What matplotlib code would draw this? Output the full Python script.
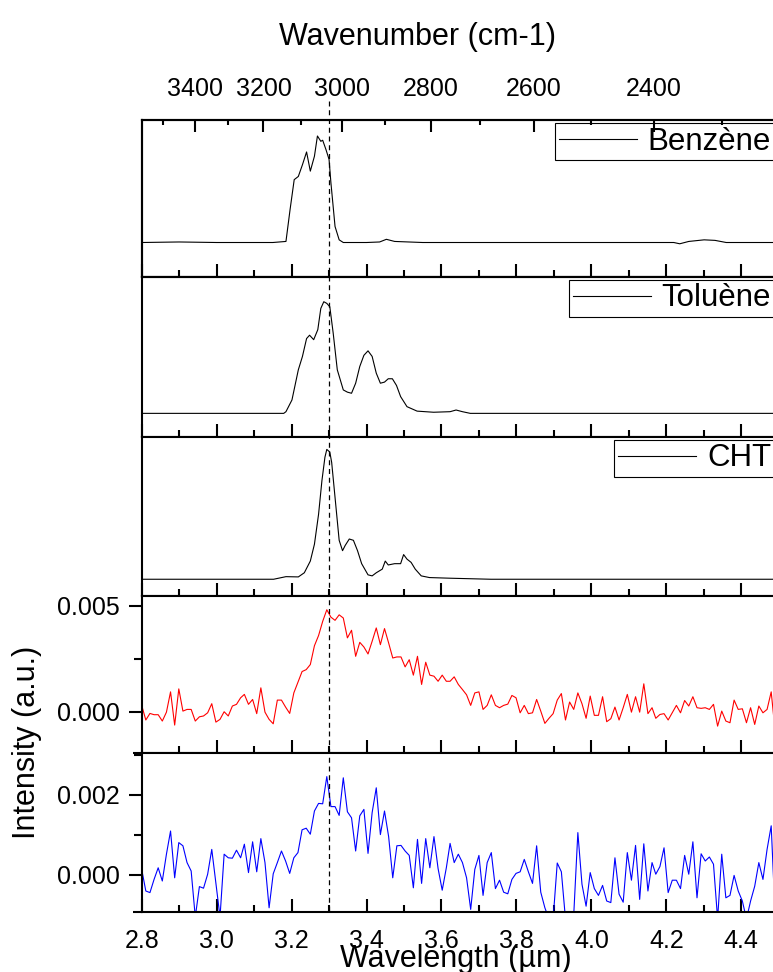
import matplotlib
matplotlib.use('Agg')
import matplotlib.pyplot as plt
from matplotlib.ticker import MultipleLocator, FixedLocator, FormatStrFormatter
from matplotlib.transforms import blended_transform_factory
from matplotlib.lines import Line2D

plt.rcParams['font.family'] = ['Liberation Sans', 'DejaVu Sans']

# ---------------- data ----------------
benz_wl = [2.800, 2.900, 3.000, 3.100, 3.150, 3.185, 3.196, 3.207, 3.218, 3.229, 3.240, 3.250,
           3.261, 3.269, 3.278, 3.283, 3.292, 3.300, 3.305, 3.316, 3.327, 3.338, 3.400, 3.435,
           3.453, 3.475, 3.550, 3.700, 3.900, 4.100, 4.220, 4.236, 4.260, 4.301, 4.330, 4.360, 4.520]
benz_I = [0.0, 0.005, 0.0, 0.0, 0.0, 0.01, 0.31, 0.59, 0.62, 0.73, 0.85, 0.67,
          0.81, 1.00, 0.95, 0.96, 0.87, 0.78, 0.56, 0.15, 0.025, 0.0, 0.0, 0.005,
          0.03, 0.01, 0.0, 0.0, 0.0, 0.0, 0.0, -0.012, 0.01, 0.025, 0.02, 0.0, 0.0]

tol_wl = [2.800, 3.000, 3.179, 3.185, 3.201, 3.218, 3.229, 3.240, 3.248, 3.259, 3.270, 3.278,
          3.286, 3.294, 3.302, 3.311, 3.322, 3.338, 3.349, 3.360, 3.371, 3.382, 3.393, 3.404,
          3.415, 3.426, 3.437, 3.448, 3.458, 3.469, 3.480, 3.491, 3.508, 3.535, 3.579, 3.623,
          3.639, 3.656, 3.677, 4.000, 4.520]
tol_I = [0.0, 0.0, 0.0, 0.015, 0.12, 0.39, 0.51, 0.67, 0.70, 0.66, 0.75, 0.94,
         1.00, 0.985, 0.955, 0.72, 0.39, 0.21, 0.19, 0.18, 0.27, 0.42, 0.52, 0.56,
         0.51, 0.36, 0.27, 0.28, 0.31, 0.31, 0.25, 0.15, 0.06, 0.02, 0.01, 0.015,
         0.03, 0.015, 0.0, 0.0, 0.0]

cht_wl = [2.800, 3.000, 3.152, 3.185, 3.218, 3.234, 3.250, 3.261, 3.272, 3.281, 3.289, 3.294,
          3.302, 3.307, 3.316, 3.327, 3.336, 3.343, 3.354, 3.365, 3.376, 3.387, 3.404, 3.415,
          3.426, 3.442, 3.450, 3.458, 3.475, 3.491, 3.499, 3.508, 3.519, 3.530, 3.546, 3.568,
          3.623, 3.732, 4.520]
cht_I = [0.0, 0.0, 0.0, 0.02, 0.018, 0.05, 0.14, 0.27, 0.50, 0.76, 0.94, 1.00,
         0.98, 0.90, 0.63, 0.30, 0.22, 0.26, 0.31, 0.30, 0.22, 0.12, 0.034, 0.026,
         0.05, 0.078, 0.14, 0.11, 0.12, 0.12, 0.19, 0.155, 0.13, 0.078, 0.026, 0.013,
         0.008, 0.0, 0.0]

noise_wl = [2.800, 2.811, 2.822, 2.833, 2.844, 2.855, 2.866, 2.877, 2.888, 2.899,
            2.910, 2.921, 2.932, 2.943, 2.954, 2.965, 2.976, 2.987, 2.998, 3.009,
            3.020, 3.031, 3.042, 3.053, 3.064, 3.074, 3.085, 3.096, 3.107, 3.118,
            3.129, 3.140, 3.151, 3.162, 3.173, 3.184, 3.195, 3.206, 3.217, 3.228,
            3.239, 3.250, 3.261, 3.272, 3.283, 3.294, 3.305, 3.316, 3.327, 3.338,
            3.349, 3.360, 3.371, 3.382, 3.393, 3.404, 3.415, 3.426, 3.437, 3.448,
            3.459, 3.470, 3.481, 3.492, 3.503, 3.514, 3.525, 3.536, 3.547, 3.558,
            3.569, 3.580, 3.591, 3.602, 3.613, 3.623, 3.634, 3.645, 3.656, 3.667,
            3.678, 3.689, 3.700, 3.711, 3.722, 3.733, 3.744, 3.755, 3.766, 3.777,
            3.788, 3.799, 3.810, 3.821, 3.832, 3.843, 3.854, 3.865, 3.876, 3.887,
            3.898, 3.909, 3.920, 3.931, 3.942, 3.953, 3.964, 3.975, 3.986, 3.997,
            4.008, 4.019, 4.030, 4.041, 4.052, 4.063, 4.074, 4.085, 4.096, 4.107,
            4.118, 4.129, 4.140, 4.151, 4.162, 4.172, 4.183, 4.194, 4.205, 4.216,
            4.227, 4.238, 4.249, 4.260, 4.271, 4.282, 4.293, 4.304, 4.315, 4.326,
            4.337, 4.348, 4.359, 4.370, 4.381, 4.392, 4.403, 4.414, 4.425, 4.436,
            4.447, 4.458, 4.469, 4.480, 4.491]

# red trace, units of 1e-3
red_milli = [0.30, -0.39, -0.08, -0.14, -0.14, -0.44, -0.02, 0.94, -0.63, 1.08,
             0.03, 0.11, 0.11, -0.44, -0.24, -0.20, -0.05, 0.38, -0.49, -0.36,
             0.00, -0.20, 0.27, 0.35, 0.66, 0.82, 0.35, 0.58, -0.09, 1.13,
             -0.02, -0.36, -0.57, 0.55, 0.55, 0.22, -0.08, 0.89, 1.40, 1.90,
             1.99, 2.23, 3.12, 3.60, 4.27, 4.82, 4.47, 4.32, 4.58, 4.43,
             3.49, 3.85, 2.62, 3.28, 3.06, 2.73, 3.33, 3.96, 3.17, 3.93,
             3.25, 2.54, 2.59, 2.59, 2.12, 2.46, 1.73, 2.62, 1.29, 2.34,
             1.73, 1.68, 1.44, 1.73, 1.44, 1.44, 1.65, 1.29, 1.05, 0.80,
             0.30, 0.89, 0.94, 0.11, 0.30, 0.80, 0.30, 0.19, 0.30, 0.36,
             0.77, 0.66, -0.05, 0.30, -0.09, -0.05, 0.58, 0.03, -0.55, -0.31,
             -0.09, 0.55, 0.86, -0.39, 0.46, 0.11, 0.89, 0.38, -0.31, 0.74,
             -0.17, -0.17, 0.71, -0.47, -0.33, 0.22, -0.39, 0.19, 0.82, -0.02,
             0.71, -0.02, 1.32, -0.09, 0.19, -0.31, -0.13, -0.09, -0.39, -0.05,
             0.30, -0.05, 0.53, 0.27, 0.71, 0.19, 0.16, 0.19, 0.11, 0.35,
             -0.68, 0.03, -0.44, -0.52, 0.55, 0.11, 0.14, -0.52, 0.19, -0.60,
             0.27, -0.05, 0.11, 0.94, -1.00]

# blue trace, units of 1e-3
blue_milli = [0.14, -0.40, -0.44, -0.11, 0.18, -0.15, 0.52, 1.10, -0.07, 0.81,
              0.73, 0.31, 0.10, -1.05, -0.29, -0.33, 0.02, 0.64, -0.20, -1.05,
              0.52, 0.43, 0.42, 0.62, 0.43, 0.77, 0.06, 0.83, 0.08, 0.91,
              0.31, -0.82, 0.03, 0.31, 0.60, 0.35, 0.04, 0.43, 0.56, 1.13,
              1.17, 1.02, 1.60, 1.79, 1.78, 2.46, 1.71, 1.71, 1.49, 2.43,
              1.58, 1.43, 0.60, 1.48, 1.64, 0.54, 1.56, 2.18, 1.01, 1.60,
              0.96, -0.07, 0.73, 0.74, 0.60, 0.49, -0.32, 0.89, -0.21, 0.91,
              0.18, 0.96, 0.16, -0.38, 0.18, 0.79, 0.31, 0.52, 0.31, -0.07,
              -0.86, 0.14, 0.49, -0.51, 0.31, 0.56, -0.34, -0.13, -0.43, -0.47,
              -0.11, 0.04, 0.08, 0.39, 0.08, -0.21, 0.73, -0.43, -0.82, -1.10,
              -1.10, 0.30, 0.08, -1.10, -1.10, -1.00, 1.06, -0.23, -0.78, 0.06,
              -0.34, -0.51, -0.26, -0.65, -0.69, 0.43, -0.48, -0.68, 0.56, -0.13,
              0.74, -0.61, 0.78, -0.40, 0.31, 0.02, 0.21, 0.68, -0.44, -0.13,
              -0.13, -0.34, 0.49, 0.02, 0.83, -0.57, 0.53, 0.35, 0.45, 0.27,
              -1.10, 0.52, -0.57, -0.51, -0.01, -0.40, -0.65, -1.10, -0.65, -0.28,
              0.31, -0.11, 0.64, 1.23, -1.10]

legend_labels = ['Benzène', 'Toluène', 'CHT']
wn_major = [3400, 3200, 3000, 2800, 2600, 2400]
wn_minor = [3500, 3300, 3100, 2900, 2700, 2500, 2300]
marker_wl = 3.3

# ---------------- layout ----------------
W, H = 773, 972
fig = plt.figure(figsize=(W / 100, H / 100), dpi=100)

left_px = 141.7
px_per_um = 374.7
xlo, xhi = 2.8, 4.53
ax_w_px = (xhi - xlo) * px_per_um
edges = [120, 276.7, 436.7, 596, 753, 912]
ylims = [(-0.321, 1.150), (-0.209, 1.224), (-0.129, 1.098),
         (-0.00195, 0.00547), (-0.000925, 0.00305)]

LW_SPINE = 1.5
TICK_FS = 18

axes = []
for k in range(5):
    top, bot = edges[k], edges[k + 1]
    ax = fig.add_axes([left_px / W, 1 - bot / H, ax_w_px / W, (bot - top) / H])
    ax.set_xlim(xlo, xhi)
    ax.set_ylim(*ylims[k])
    for s in ax.spines.values():
        s.set_linewidth(LW_SPINE)
    ax.xaxis.set_major_locator(MultipleLocator(0.2))
    ax.xaxis.set_minor_locator(MultipleLocator(0.1))
    ax.xaxis.set_major_formatter(FormatStrFormatter('%.1f'))
    ax.tick_params(axis='x', which='major', direction='in', length=9.5, width=LW_SPINE,
                   top=False, bottom=True, labelbottom=(k == 4), labelsize=TICK_FS, pad=12)
    ax.tick_params(axis='x', which='minor', direction='in', length=5, width=LW_SPINE,
                   top=False, bottom=True)
    axes.append(ax)

# spectra panels
spectra = [(benz_wl, benz_I), (tol_wl, tol_I), (cht_wl, cht_I)]
for k, (wl, inten) in enumerate(spectra):
    ax = axes[k]
    ax.plot(wl, inten, color='black', lw=0.8, label=legend_labels[k])
    ax.set_yticks([])
    panel_h = edges[k + 1] - edges[k]
    leg = ax.legend(loc='upper right',
                    bbox_to_anchor=((775 - left_px) / ax_w_px, 1 - 3.0 / panel_h),
                    borderaxespad=0, frameon=True, fancybox=False, edgecolor='black',
                    framealpha=1, fontsize=22.5, handlelength=2.5, handletextpad=0.35,
                    borderpad=0.12)
    leg.get_frame().set_linewidth(0.8)

# noise panels
axes[3].plot(noise_wl, [v * 1e-3 for v in red_milli], color='#ff0000', lw=0.8)
axes[4].plot(noise_wl, [v * 1e-3 for v in blue_milli], color='#0000ff', lw=0.8)
axes[3].yaxis.set_major_locator(FixedLocator([0.0, 0.005]))
axes[3].yaxis.set_minor_locator(FixedLocator([-0.0025, 0.0025]))
axes[4].yaxis.set_major_locator(FixedLocator([0.0, 0.002]))
axes[4].yaxis.set_minor_locator(FixedLocator([-0.001, 0.001, 0.003]))
for ax in axes[3:]:
    ax.yaxis.set_major_formatter(FormatStrFormatter('%.3f'))
    ax.tick_params(axis='y', which='major', direction='out', length=9.5, width=LW_SPINE,
                   labelsize=TICK_FS, pad=6, right=False)
    ax.tick_params(axis='y', which='minor', direction='out', length=5.5, width=LW_SPINE,
                   right=False)
    ax.add_line(Line2D([-9 / ax_w_px, 0], [0, 0], transform=ax.transAxes, clip_on=False,
                       color='black', lw=LW_SPINE, solid_capstyle='butt'))

# top wavenumber axis
axt = axes[0].twiny()
axt.set_xlim(xlo, xhi)
axt.xaxis.set_major_locator(FixedLocator([1e4 / w for w in wn_major]))
axt.xaxis.set_minor_locator(FixedLocator([1e4 / w for w in wn_minor]))
axt.set_xticklabels([str(w) for w in wn_major])
axt.tick_params(axis='x', which='major', direction='in', length=8.5, width=LW_SPINE,
                labelsize=TICK_FS, pad=14)
axt.tick_params(axis='x', which='minor', direction='in', length=3.8, width=LW_SPINE)
for s in axt.spines.values():
    s.set_linewidth(LW_SPINE)

# dashed marker line across all panels
trans = blended_transform_factory(axes[0].transData, fig.transFigure)
fig.add_artist(Line2D([marker_wl, marker_wl], [1 - 101 / H, 1 - 912 / H], transform=trans,
                      color='black', lw=0.9, ls=(0, (4, 3))))

# axis titles
fig.text(417.5 / W, 1 - 45 / H, 'Wavenumber (cm-1)', ha='center', va='baseline', fontsize=22)
fig.text(455.5 / W, 1 - 967 / H, 'Wavelength (µm)', ha='center', va='baseline', fontsize=22)
fig.text(27 / W, 1 - 742 / H, 'Intensity (a.u.)', ha='center', va='center',
         rotation=90, fontsize=22)

fig.savefig('out.png', dpi=100)
